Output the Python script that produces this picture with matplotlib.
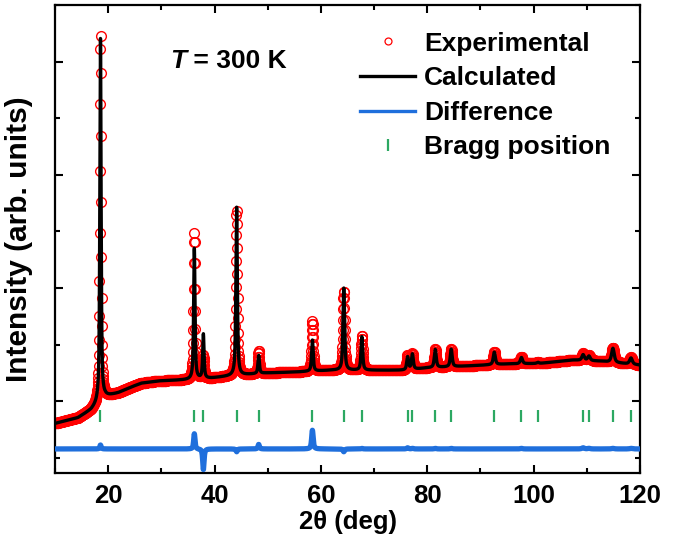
import numpy as np
import matplotlib
matplotlib.use("Agg")
import matplotlib.pyplot as plt
from matplotlib.ticker import FixedLocator, MultipleLocator
from matplotlib.lines import Line2D

plt.rcParams['font.family'] = ['Liberation Sans', 'DejaVu Sans']
plt.rcParams['font.weight'] = 'bold'
plt.rcParams['axes.labelweight'] = 'bold'

# background of the refined pattern (2theta, intensity)
bg_2theta = [10, 14.3, 16.8, 18.1, 19.4, 21.9, 24.3, 26.2, 29.4, 34.5, 39.4, 43.2,
             49.6, 55.8, 62.1, 69.6, 76.0, 79.8, 88.5, 94.9, 101.1, 107.4, 112.5, 120]
bg_level = [0.61, 0.71, 0.85, 0.97, 1.08, 1.15, 1.25, 1.32, 1.36, 1.38, 1.41, 1.45,
            1.50, 1.52, 1.55, 1.55, 1.55, 1.59, 1.63, 1.66, 1.67, 1.73, 1.71, 1.64]

# reflections: positions, calculated / observed heights above background, widths
bragg_pos = [18.55, 36.2, 37.9, 44.15, 48.3, 58.4, 64.3, 67.7, 76.3, 77.2, 81.5,
             84.5, 92.6, 97.7, 100.8, 109.3, 110.4, 114.9, 118.3]
peak_calc = [6.40, 2.31, 0.78, 2.97, 0.32, 0.55, 1.45, 0.59, 0.23, 0.27, 0.32,
             0.31, 0.22, 0.11, 0.02, 0.10, 0.08, 0.25, 0.11]
peak_obs = [6.47, 2.58, 0.41, 2.92, 0.40, 0.88, 1.40, 0.60, 0.25, 0.28, 0.33,
            0.32, 0.22, 0.12, 0.02, 0.12, 0.09, 0.26, 0.12]
peak_fwhm = [0.28, 0.30, 0.30, 0.32, 0.32, 0.34, 0.36, 0.36, 0.40, 0.40, 0.42,
             0.42, 0.45, 0.48, 0.50, 0.55, 0.55, 0.58, 0.60]

diff_offset = 0.16
bragg_level = 0.74


def profile(x, heights):
    y = np.interp(x, bg_2theta, bg_level)
    for x0, h, w in zip(bragg_pos, heights, peak_fwhm):
        u = (x - x0) / (w / 2)
        y = y + h * (0.7 / (1 + u**2) + 0.3 * np.exp(-np.log(2) * u**2))
    return y


x_calc = np.arange(10, 120.001, 0.01)
x_obs = np.arange(10, 120.001, 0.04)
y_calc = profile(x_calc, peak_calc)
y_obs = profile(x_obs, peak_obs)
y_diff = diff_offset + y_obs - profile(x_obs, peak_calc)

fig = plt.figure(figsize=(6.84, 5.42), dpi=100)
ax = fig.add_axes([0.0804, 0.1273, 0.8553, 0.8635])

ax.plot(x_obs, y_obs, 'o', ms=7, mfc='none', mec='red', mew=1.0, zorder=2)
ax.plot(x_calc, y_calc, color='black', lw=2.4, zorder=3)
ax.plot(x_obs, y_diff, color='#1f6fdc', lw=3.8, zorder=3)
ax.plot(bragg_pos, [bragg_level] * len(bragg_pos), '|', ms=8.5, mew=1.6,
        color='#2ca862', zorder=3)

ax.set_xlim(10, 120)
ax.set_ylim(-0.265, 8.0)
ax.xaxis.set_major_locator(MultipleLocator(20))
ax.xaxis.set_minor_locator(MultipleLocator(10))
ax.yaxis.set_major_locator(FixedLocator([1, 3, 5, 7]))
ax.yaxis.set_minor_locator(FixedLocator([0, 2, 4, 6, 8]))
ax.set_yticklabels([])
ax.tick_params(which='both', direction='in', top=True, right=True, width=1.5)
ax.tick_params(which='major', length=6, labelsize=18.5, pad=8)
ax.tick_params(which='minor', length=3.5)
for sp in ax.spines.values():
    sp.set_linewidth(1.6)

ax.set_xlabel('2θ (deg)', fontsize=18.5, labelpad=1)
ax.set_ylabel('Intensity (arb. units)', fontsize=21.5, labelpad=8)

t = ax.text(0.196, 0.865, 'T', transform=ax.transAxes, fontsize=19,
            fontstyle='italic', fontweight='bold', va='baseline')
ax.annotate(' = 300 K', xy=(1, 0), xycoords=t, fontsize=19, fontweight='bold',
            va='bottom')

handles = [
    Line2D([], [], marker='o', ls='none', ms=5, mfc='none', mec='red', mew=0.9),
    Line2D([], [], color='black', lw=2.4),
    Line2D([], [], color='#1f6fdc', lw=2.4),
    Line2D([], [], marker='|', ls='none', ms=8, mew=1.6, color='#2ca862'),
]
labels = ['Experimental', 'Calculated', 'Difference', 'Bragg position']
ax.legend(handles, labels, loc='upper left', bbox_to_anchor=(0.521, 0.943),
          frameon=False, fontsize=19, handlelength=2.1, handletextpad=0.33,
          labelspacing=0.4, borderpad=0, borderaxespad=0)

fig.savefig('out.png', dpi=100)
